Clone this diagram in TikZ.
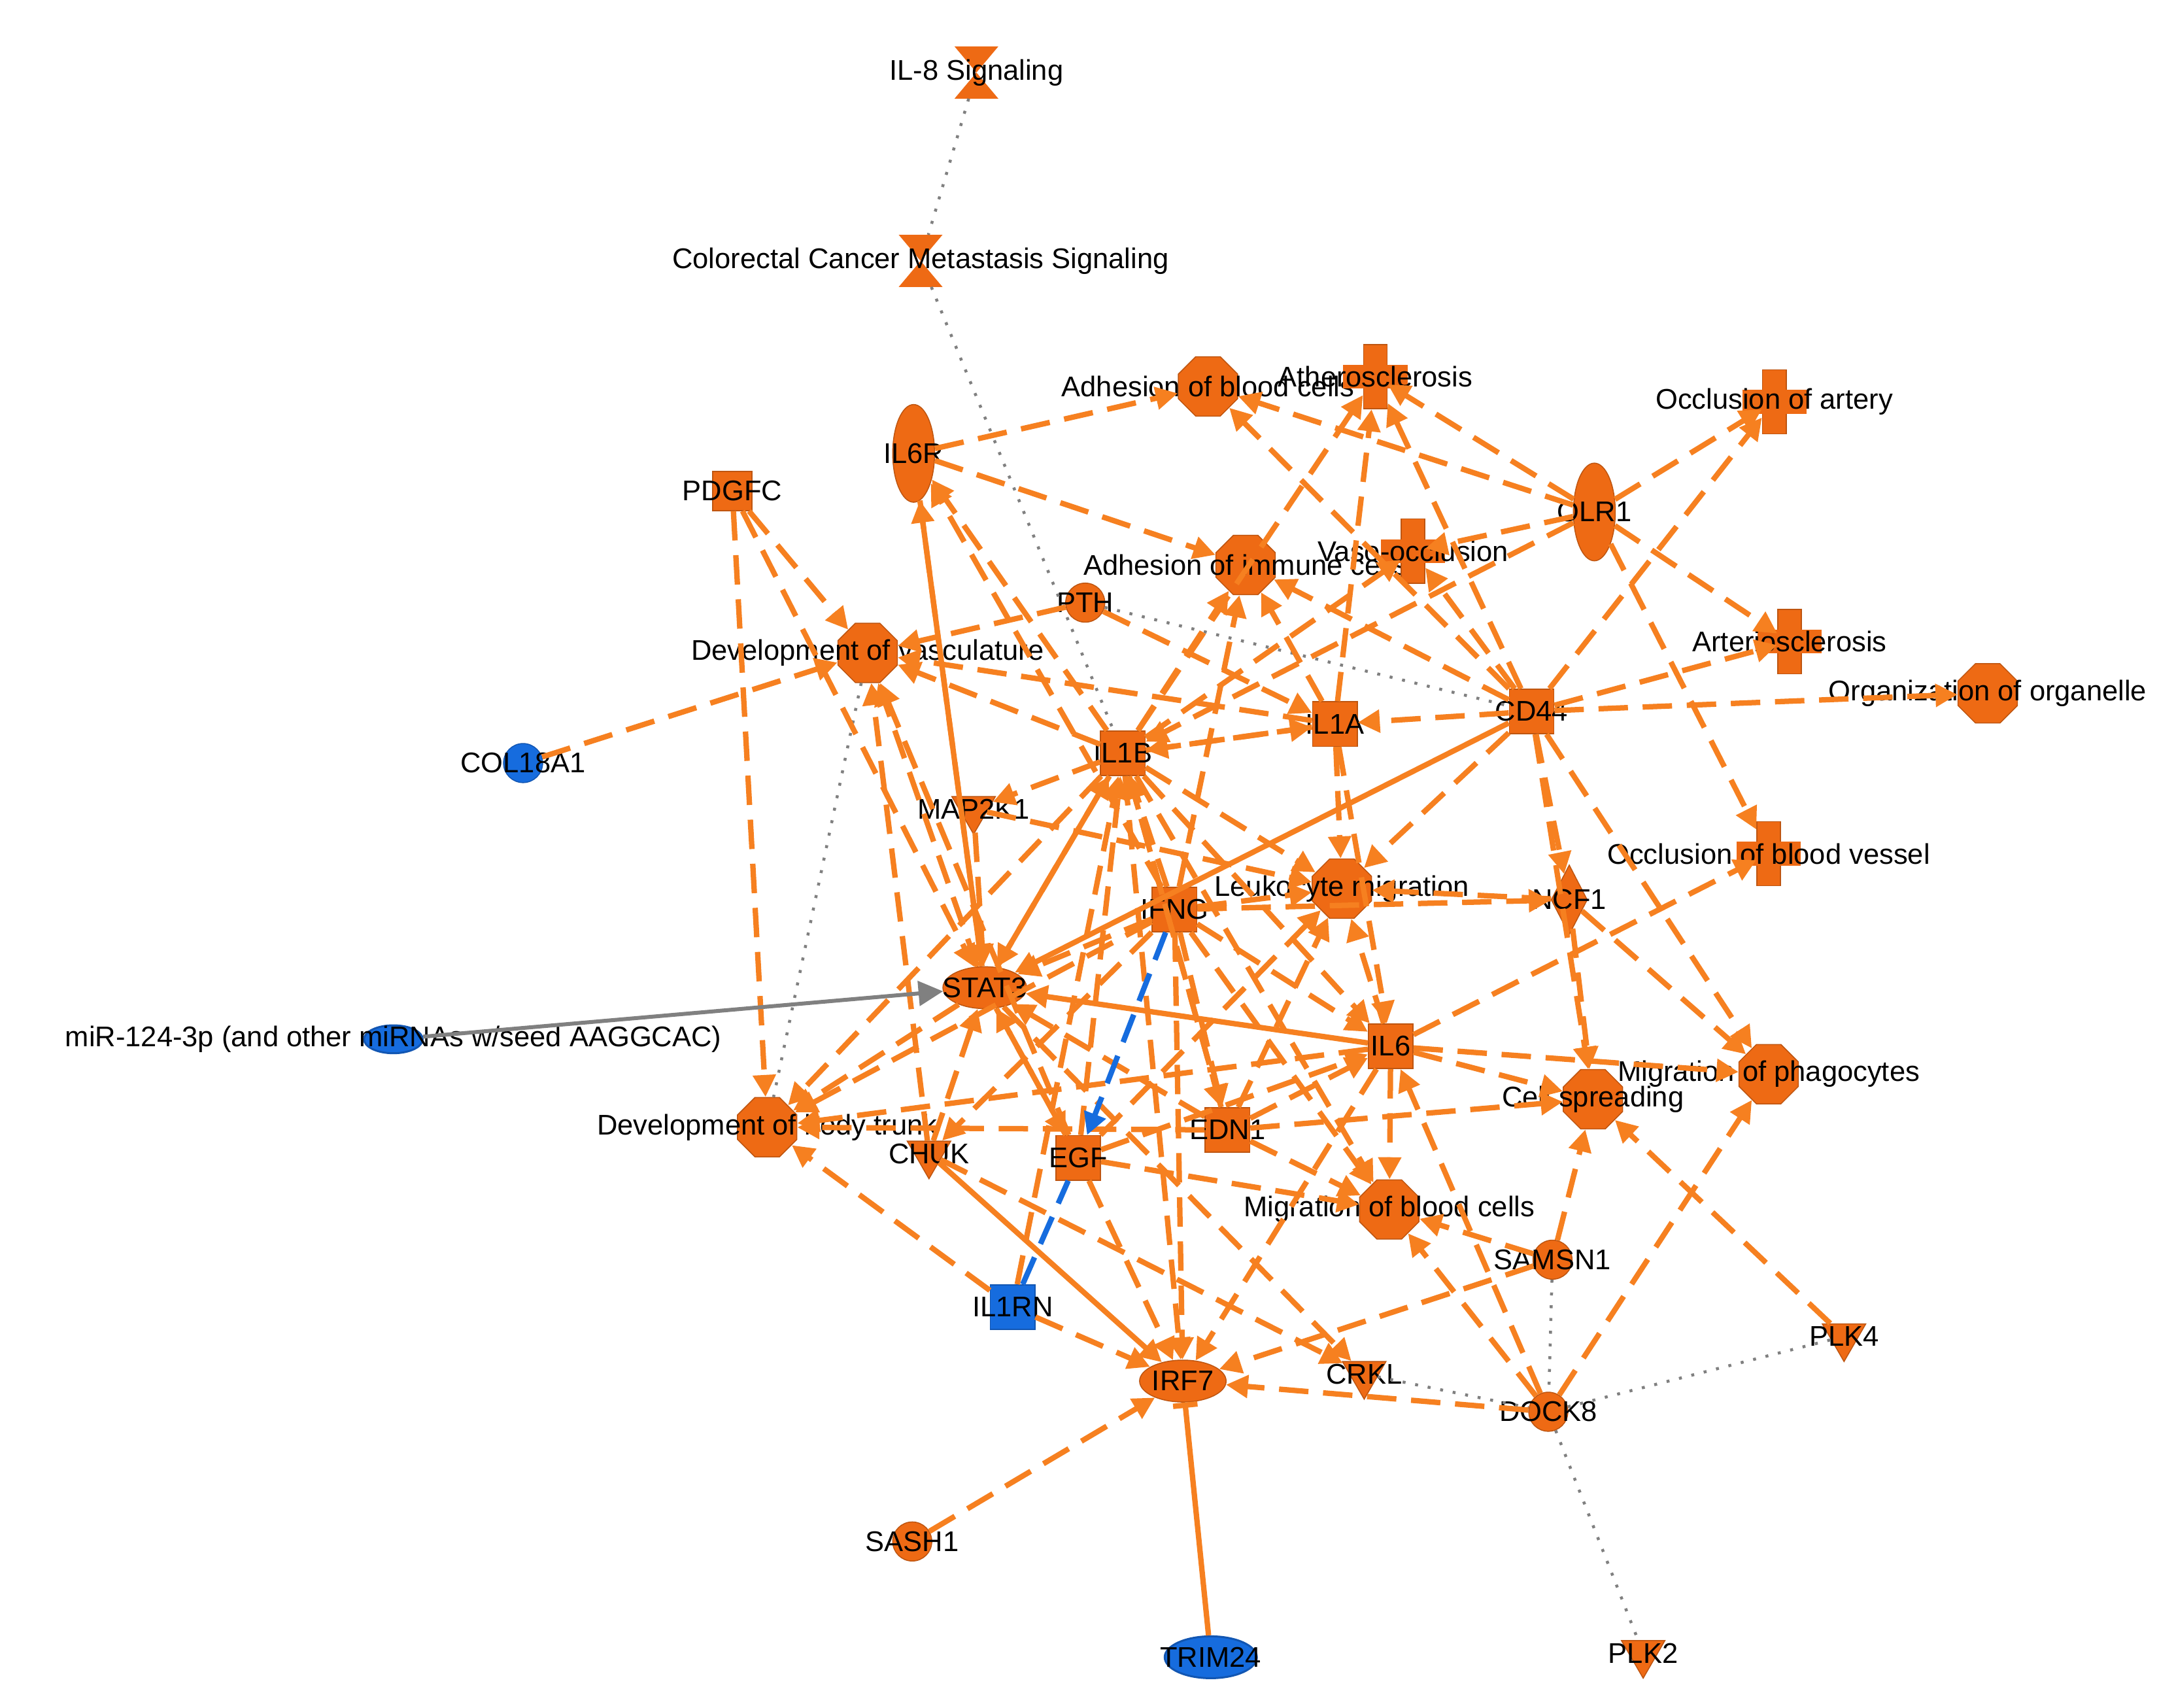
\documentclass[tikz,border=0pt]{standalone}
\usepackage{fontspec}
\setmainfont{Liberation Sans}
\usetikzlibrary{shapes.geometric,arrows.meta}

\definecolor{ipaOrange}{RGB}{238,106,20}
\definecolor{lineOrange}{RGB}{246,128,32}
\definecolor{ipaBlue}{RGB}{22,108,222}

\tikzset{
  lbl/.style={font=\fontsize{5.8}{7}\selectfont, text=black, inner sep=0pt},
  mol/.style={fill=ipaOrange, draw=ipaOrange!80!black, line width=0.2pt, inner sep=0pt},
  oct/.style={mol, regular polygon, regular polygon sides=8, minimum size=0.46cm},
  sq/.style={mol, rectangle, minimum size=0.32cm},
  circ/.style={mol, circle, minimum size=0.28cm},
  tri/.style={mol, regular polygon, regular polygon sides=3, shape border rotate=180, minimum size=0.36cm},
  ovh/.style={mol, ellipse, minimum width=0.6cm, minimum height=0.3cm},
  ovv/.style={mol, ellipse, minimum width=0.3cm, minimum height=0.7cm},
  dia/.style={mol, diamond, aspect=0.55, minimum width=0.26cm, minimum height=0.5cm},
  blue/.style={fill=ipaBlue, draw=ipaBlue!80!black},
  crs/.style={mol, rectangle, minimum width=0.17cm, minimum height=0.46cm},
  hg/.style={rectangle, minimum width=0.3cm, minimum height=0.36cm, inner sep=0pt},
  act/.style={draw=lineOrange, line width=1.1pt, dash pattern=on 6pt off 3pt, -{Triangle[length=4.5pt,width=4.5pt]}},
  sol/.style={draw=lineOrange, line width=1.1pt, -{Triangle[length=4.5pt,width=4.5pt]}},
  dot/.style={draw=gray, line width=0.6pt, dotted},
}
% cross shaped node: vertical bar plus a horizontal bar
\newcommand{\crossnode}[3]{%
  \node[crs] (#1) at (#2) {};
  \fill[ipaOrange] ([xshift=-0.23cm,yshift=-0.085cm]#1.center) rectangle ([xshift=0.23cm,yshift=0.085cm]#1.center);
  \node[lbl] (#1-t) at (#2) {#3};}
% hourglass shaped node
\newcommand{\hgnode}[3]{%
  \node[hg] (#1) at (#2) {};
  \fill[ipaOrange] (#1.north west) -- (#1.north east) -- (#1.south west) -- (#1.south east) -- cycle;
  \node[lbl] (#1-t) at (#2) {#3};}

\begin{document}
\begin{tikzpicture}[x=0.01cm, y=-0.01cm]
\useasboundingbox (0,0) rectangle (1560,1224);

% functions and pathways
\hgnode{il8}{700,52}{IL-8 Signaling}
\hgnode{crc}{660,187}{Colorectal Cancer Metastasis Signaling}
\node[oct, label={[lbl]center:Adhesion of blood cells}] (adb) at (866,277) {};
\crossnode{ath}{986,270}{Atherosclerosis}
\crossnode{oart}{1272,288}{Occlusion of artery}
\node[oct, label={[lbl]center:Adhesion of immune cells}] (adi) at (893,405) {};
\crossnode{vaso}{1013,395}{Vaso-occlusion}
\node[oct, label={[lbl]center:Development of vasculature}] (dvas) at (622,468) {};
\crossnode{arts}{1283,460}{Arteriosclerosis}
\node[oct, label={[lbl]center:Organization of organelle}] (org) at (1425,497) {};
\crossnode{obv}{1268,612}{Occlusion of blood vessel}
\node[oct, label={[lbl]center:Leukocyte migration}] (leu) at (962,637) {};
\node[oct, label={[lbl]center:Migration of phagocytes}] (mph) at (1268,770) {};
\node[oct, label={[lbl]center:Cell spreading}] (csp) at (1142,788) {};
\node[oct, label={[lbl]center:Development of body trunk}] (dbt) at (550,808) {};
\node[oct, label={[lbl]center:Migration of blood cells}] (mbc) at (996,867) {};

% molecules
\node[ovv, label={[lbl]center:IL6R}] (il6r) at (655,325) {};
\node[sq, minimum size=0.28cm, label={[lbl]center:PDGFC}] (pdgfc) at (525,352) {};
\node[ovv, label={[lbl]center:OLR1}] (olr1) at (1143,367) {};
\node[circ, label={[lbl]center:PTH}] (pth) at (778,432) {};
\node[sq, label={[lbl]center:CD44}] (cd44) at (1098,510) {};
\node[sq, label={[lbl]center:IL1A}] (il1a) at (957,519) {};
\node[sq, label={[lbl]center:IL1B}] (il1b) at (805,540) {};
\node[circ, blue, label={[lbl]center:COL18A1}] (col) at (375,547) {};
\node[tri, label={[lbl]center:MAP2K1}] (map) at (698,580) {};
\node[sq, label={[lbl]center:IFNG}] (ifng) at (842,652) {};
\node[dia, label={[lbl]center:NCF1}] (ncf1) at (1125,645) {};
\node[ovh, label={[lbl]center:STAT3}] (stat3) at (706,708) {};
\node[ellipse, blue, minimum width=0.42cm, minimum height=0.2cm, inner sep=0pt, label={[lbl]center:miR-124-3p (and other miRNAs w/seed AAGGCAC)}] (mir) at (282,745) {};
\node[sq, label={[lbl]center:IL6}] (il6) at (997,750) {};
\node[tri, label={[lbl]center:CHUK}] (chuk) at (666,827) {};
\node[sq, label={[lbl]center:EGF}] (egf) at (773,830) {};
\node[sq, label={[lbl]center:EDN1}] (edn1) at (880,810) {};
\node[circ, label={[lbl]center:SAMSN1}] (sam) at (1113,903) {};
\node[sq, blue, label={[lbl]center:IL1RN}] (il1rn) at (726,937) {};
\node[tri, label={[lbl]center:PLK4}] (plk4) at (1322,958) {};
\node[ovh, minimum width=0.62cm, label={[lbl]center:IRF7}] (irf7) at (848,990) {};
\node[tri, label={[lbl]center:CRKL}] (crkl) at (978,985) {};
\node[circ, label={[lbl]center:DOCK8}] (dock) at (1110,1012) {};
\node[circ, label={[lbl]center:SASH1}] (sash) at (654,1105) {};
\node[ellipse, blue, minimum width=0.66cm, minimum height=0.3cm, inner sep=0pt, label={[lbl]center:TRIM24}] (trim) at (868,1188) {};
\node[tri, label={[lbl]center:PLK2}] (plk2) at (1178,1185) {};

% dotted relations
\draw[dot] (il8) -- (crc);
\draw[dot] (crc) -- (il1b);
\draw[dot] (pth) -- (cd44);
\draw[dot] (dvas) -- (dbt);
\draw[dot] (sam) -- (dock);
\draw[dot] (crkl) -- (dock);
\draw[dot] (dock) -- (plk4);
\draw[dot] (dock) -- (plk2);

% dashed activations
\foreach \a/\b in {il6r/adb, il6r/adi, pdgfc/dvas, pdgfc/dbt, pdgfc/stat3,
  olr1/adb, olr1/ath, olr1/oart, olr1/vaso, olr1/arts, olr1/obv, olr1/il1b,
  cd44/ath, cd44/adb, cd44/adi, cd44/oart, cd44/arts, cd44/org, cd44/vaso,
  cd44/ncf1, cd44/mph, cd44/leu, cd44/il1a, cd44/csp,
  il1a/adi, il1a/ath, il1a/leu, il1a/il6, il1a/dvas, il1a/il1b,
  il1b/adi, il1b/ath, il1b/dvas, il1b/il6r, il1b/il6, il1b/leu, il1b/dbt,
  il1b/map, il1b/edn1, il1b/mbc, il1b/irf7, il1b/il1a, il1b/vaso,
  ifng/il1b, ifng/stat3, ifng/il6, ifng/edn1, ifng/leu, ifng/mbc, ifng/irf7,
  ifng/chuk, ifng/il6r, ifng/dbt, ifng/ncf1, ifng/adi,
  stat3/egf, stat3/il1b, stat3/dvas, stat3/dbt, stat3/crkl, stat3/il6r,
  il6/mph, il6/csp, il6/mbc, il6/obv, il6/leu, il6/dbt, il6/irf7,
  egf/dvas, egf/stat3, egf/il1b, egf/il6, egf/mbc, egf/leu, egf/irf7,
  edn1/il6, edn1/mbc, edn1/il1b, edn1/csp, edn1/stat3, edn1/dbt, edn1/leu,
  ncf1/csp, ncf1/mph, ncf1/leu, sam/csp, sam/irf7, sam/mbc,
  dock/irf7, dock/mph, dock/mbc, dock/il6, plk4/csp, sash/irf7,
  col/dvas, il1rn/dbt, il1rn/irf7, il1rn/il1b, chuk/stat3, chuk/dvas,
  map/stat3, map/leu, pth/dvas, pth/il1a, chuk/crkl}
  \draw[act] (\a) -- (\b);

% solid relations
\draw[sol] (il6r) -- (stat3);
\draw[sol] (cd44) -- (stat3);
\draw[sol] (il6) -- (stat3);
\draw[sol] (il1b) -- (stat3);
\draw[sol] (chuk) -- (irf7);
\draw[draw=lineOrange, line width=1.1pt, -{Bar[width=5pt]}] (trim) -- (irf7);
\draw[draw=gray, line width=0.8pt, -{Triangle[length=5pt,width=5pt]}] (mir) -- (stat3);
\draw[draw=ipaBlue, line width=1.1pt, dash pattern=on 6pt off 3pt, -{Triangle[length=4.5pt,width=4.5pt]}] (ifng) -- (egf);
\draw[draw=ipaBlue, line width=1.1pt, dash pattern=on 6pt off 3pt] (il1rn) -- (egf);
\end{tikzpicture}
\end{document}
